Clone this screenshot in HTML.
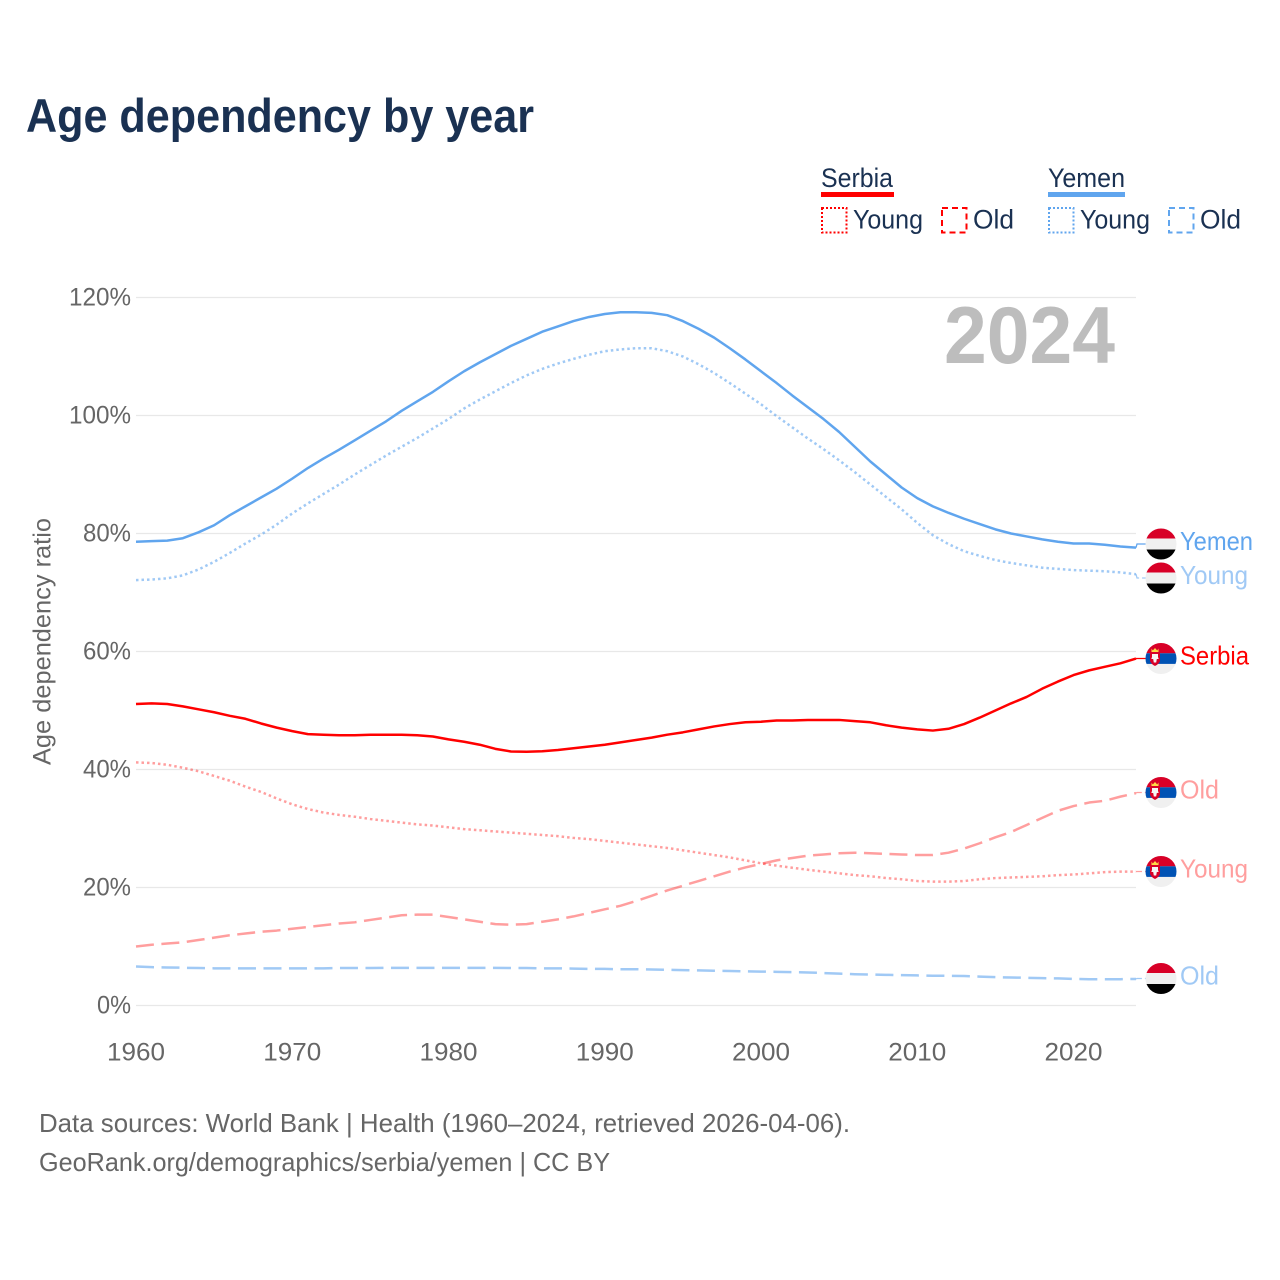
<!DOCTYPE html>
<html lang="en">
<head>
<meta charset="utf-8">
<title>Age dependency by year</title>
<style>
html,body{margin:0;padding:0;background:#fff}
svg{display:block}
text{font-family:"Liberation Sans",sans-serif}
</style>
</head>
<body>
<svg id="chart" xmlns="http://www.w3.org/2000/svg" width="1280" height="1280" viewBox="0 0 1280 1280">
  <defs>
    <clipPath id="flag-clip"><circle cx="0" cy="0" r="15.5"/></clipPath>
    <symbol id="flag-yemen" overflow="visible">
      <g clip-path="url(#flag-clip)">
        <rect x="-16" y="-16" width="32" height="32" fill="#f0f0f0"/>
        <rect x="-16" y="-16" width="32" height="10.500" fill="#d80027"/>
        <rect x="-16" y="5.500" width="32" height="11" fill="#000"/>
      </g>
    </symbol>
    <symbol id="flag-serbia" overflow="visible">
      <g clip-path="url(#flag-clip)">
        <rect x="-16" y="-16" width="32" height="32" fill="#f0f0f0"/>
        <rect x="-16" y="-16" width="32" height="10.800" fill="#d80027"/>
        <rect x="-16" y="-5.200" width="32" height="10.600" fill="#0052b4"/>
        <path d="M-9.500-10L-8.200-8L-6-10.500L-3.800-8L-2.500-10L-2.500-6.500L-9.500-6.500Z" fill="#ffda44"/>
        <path d="M-11-6.500H-1V2.500Q-2.500 6-6 7.500Q-9.500 6-11 2.500Z" fill="#d80027"/>
        <path d="M-9-4.500H-3V-1.500L-2.300 0.500H-4.200L-4.800 4H-7.200L-7.800 0.500H-9.700L-9-1.500Z" fill="#f5f5f5"/>
      </g>
    </symbol>
  </defs>

  <rect x="0" y="0" width="1280" height="1280" fill="#fff"/>

  <text x="26" y="132" font-size="47" font-weight="700" fill="#1a3152" textLength="508" lengthAdjust="spacingAndGlyphs">Age dependency by year</text>

  <g fill="#1a3152" font-size="27">
    <text x="821" y="187" textLength="72" lengthAdjust="spacingAndGlyphs">Serbia</text>
    <rect x="821" y="192" width="73" height="5" fill="#ff0000"/>
    <rect x="822" y="208" width="24.500" height="24.500" fill="none" stroke="#ff0000" stroke-width="2" stroke-dasharray="2 2"/>
    <text x="853" y="228.500" textLength="70" lengthAdjust="spacingAndGlyphs">Young</text>
    <rect x="942" y="208" width="24.500" height="24.500" fill="none" stroke="#ff0000" stroke-width="2" stroke-dasharray="6 4"/>
    <text x="973" y="228.500" textLength="41" lengthAdjust="spacingAndGlyphs">Old</text>

    <text x="1048" y="187" textLength="77" lengthAdjust="spacingAndGlyphs">Yemen</text>
    <rect x="1048" y="192" width="77" height="5" fill="#60a5ee"/>
    <rect x="1049" y="208" width="24.500" height="24.500" fill="none" stroke="#60a5ee" stroke-width="2" stroke-dasharray="2 2"/>
    <text x="1080" y="228.500" textLength="70" lengthAdjust="spacingAndGlyphs">Young</text>
    <rect x="1169" y="208" width="24.500" height="24.500" fill="none" stroke="#60a5ee" stroke-width="2" stroke-dasharray="6 4"/>
    <text x="1200" y="228.500" textLength="41" lengthAdjust="spacingAndGlyphs">Old</text>
  </g>

  <g id="grid"></g>
  <g id="y-ticks"></g>
  <g id="x-ticks"></g>

  <text transform="translate(50.500,765) rotate(-90)" x="0" y="0" font-size="25" fill="#666666" textLength="247" lengthAdjust="spacingAndGlyphs">Age dependency ratio</text>

  <text x="944" y="363" font-size="81" font-weight="700" fill="#bdbdbd" textLength="171" lengthAdjust="spacingAndGlyphs">2024</text>

  <g id="series"></g>
  <g id="end-labels"></g>

  <text x="39" y="1132" font-size="26" fill="#666666" textLength="811" lengthAdjust="spacingAndGlyphs">Data sources: World Bank | Health (1960–2024, retrieved 2026-04-06).</text>
  <text x="39" y="1171" font-size="26" fill="#666666" textLength="571" lengthAdjust="spacingAndGlyphs">GeoRank.org/demographics/serbia/yemen | CC BY</text>
</svg>

<script>
const startYear = 1960;
const yTickValues = [0, 20, 40, 60, 80, 100, 120];
const yTickLabels = ['0%', '20%', '40%', '60%', '80%', '100%', '120%'];
const xTickYears = [1960, 1970, 1980, 1990, 2000, 2010, 2020];
const xTickLabels = ['1960', '1970', '1980', '1990', '2000', '2010', '2020'];

const serbiaTotal = [51.1,51.2,51.1,50.7,50.2,49.7,49.1,48.6,47.8,47.1,46.5,46.0,45.9,45.8,45.8,45.9,45.9,45.9,45.8,45.6,45.1,44.7,44.2,43.5,43.05,43.0,43.1,43.3,43.6,43.9,44.2,44.6,45.0,45.4,45.9,46.3,46.8,47.3,47.7,48.0,48.1,48.3,48.3,48.4,48.4,48.4,48.2,48.0,47.5,47.1,46.8,46.6,46.9,47.7,48.8,50.0,51.2,52.3,53.7,54.9,56.0,56.8,57.4,58.0,58.8];
const serbiaYoung = [41.2,41.1,40.8,40.3,39.7,38.9,38.1,37.1,36.2,35.1,34.1,33.3,32.7,32.3,32.0,31.6,31.3,31.0,30.7,30.5,30.2,29.9,29.7,29.5,29.3,29.1,28.9,28.7,28.4,28.2,27.9,27.6,27.3,27.0,26.7,26.3,25.9,25.5,25.1,24.6,24.1,23.7,23.35,23.0,22.7,22.4,22.1,21.9,21.6,21.4,21.1,21.0,21.0,21.1,21.4,21.6,21.7,21.8,21.9,22.1,22.2,22.4,22.6,22.7,22.7];
const serbiaOld = [10.0,10.3,10.5,10.7,11.1,11.5,11.9,12.2,12.5,12.7,13.0,13.3,13.6,13.9,14.1,14.5,14.9,15.3,15.4,15.4,15.0,14.6,14.2,13.8,13.7,13.8,14.2,14.6,15.1,15.7,16.3,16.9,17.7,18.6,19.5,20.3,21.1,21.9,22.7,23.4,24.0,24.6,25.0,25.4,25.6,25.8,25.9,25.8,25.7,25.6,25.5,25.5,25.9,26.6,27.5,28.5,29.4,30.6,31.8,33.0,33.8,34.4,34.7,35.4,36.0];
const yemenTotal = [78.6,78.7,78.8,79.2,80.2,81.4,83.1,84.6,86.1,87.6,89.3,91.1,92.7,94.2,95.8,97.4,99.0,100.8,102.4,104.0,105.8,107.5,109.0,110.4,111.8,113.0,114.2,115.1,116.0,116.7,117.2,117.5,117.5,117.4,117.0,116.0,114.7,113.2,111.4,109.5,107.5,105.5,103.4,101.4,99.4,97.2,94.7,92.2,90.0,87.8,86.0,84.6,83.5,82.5,81.6,80.7,80.0,79.5,79.0,78.6,78.3,78.3,78.1,77.8,77.6];
const yemenYoung = [72.1,72.2,72.4,72.9,73.9,75.2,76.7,78.3,79.8,81.5,83.4,85.1,86.7,88.3,90.0,91.6,93.2,94.7,96.2,97.8,99.4,101.2,102.7,104.1,105.5,106.8,107.9,108.8,109.6,110.3,110.9,111.2,111.4,111.4,110.9,110.0,108.7,107.2,105.5,103.7,101.9,99.9,98.0,96.1,94.3,92.4,90.4,88.3,86.2,84.1,81.8,79.7,78.2,77.0,76.2,75.5,75.0,74.6,74.2,74.0,73.8,73.7,73.6,73.4,73.1];
const yemenOld = [6.6,6.5,6.45,6.4,6.35,6.3,6.3,6.3,6.3,6.3,6.3,6.3,6.3,6.35,6.35,6.35,6.38,6.38,6.38,6.38,6.38,6.38,6.38,6.38,6.35,6.35,6.3,6.3,6.25,6.2,6.2,6.15,6.15,6.1,6.05,6.0,5.95,5.9,5.85,5.8,5.75,5.7,5.65,5.6,5.5,5.4,5.3,5.25,5.2,5.15,5.1,5.05,5.03,5.0,4.9,4.8,4.75,4.7,4.63,4.6,4.5,4.46,4.46,4.46,4.5];

const SVGNS = 'http://www.w3.org/2000/svg';
const xScale = function (year) { return 136 + (year - startYear) * 15.625; };
const yScale = function (value) { return 1005.5 - value * 5.9; };

function make(tag, attrs, parent, content) {
  const el = document.createElementNS(SVGNS, tag);
  Object.keys(attrs).forEach(function (k) { el.setAttribute(k, attrs[k]); });
  if (content !== undefined) el.textContent = content;
  parent.appendChild(el);
  return el;
}

const gridGroup = document.getElementById('grid');
const yTickGroup = document.getElementById('y-ticks');
const xTickGroup = document.getElementById('x-ticks');
const seriesGroup = document.getElementById('series');
const labelGroup = document.getElementById('end-labels');

yTickValues.forEach(function (v, i) {
  const line = make('line', { x1: 136, x2: 1136, y1: yScale(v), y2: yScale(v), stroke: '#e8e8e8', 'stroke-width': 1.3 }, gridGroup);
  
  
  const label = yTickLabels[i];
  const t = make('text', { x: 131, y: yScale(v) + 8, 'text-anchor': 'end', 'font-size': 25, fill: '#666666', textLength: label.length === 4 ? 62 : (label.length === 3 ? 48 : 34), lengthAdjust: 'spacingAndGlyphs' }, yTickGroup, label);
  
  
});

xTickYears.forEach(function (yr, i) {
  const t = make('text', { x: xScale(yr), y: 1060.5, 'text-anchor': 'middle', 'font-size': 25, fill: '#666666', textLength: 58, lengthAdjust: 'spacingAndGlyphs' }, xTickGroup, xTickLabels[i]);
  
  
});

const seriesList = [
  { id: 'yemen-old', values: yemenOld, color: '#60a5ee', opacity: 0.6, dash: '18 7.500', flag: 'flag-yemen', label: 'Old', labelY: 978.5, width: 39 },
  { id: 'serbia-old', values: serbiaOld, color: '#ff0000', opacity: 0.38, dash: '18 7.500', flag: 'flag-serbia', label: 'Old', labelY: 792.5, width: 39 },
  { id: 'serbia-young', values: serbiaYoung, color: '#ff0000', opacity: 0.38, dash: '2.500 3', flag: 'flag-serbia', label: 'Young', labelY: 871.5, width: 68 },
  { id: 'yemen-young', values: yemenYoung, color: '#60a5ee', opacity: 0.6, dash: '2.500 3', flag: 'flag-yemen', label: 'Young', labelY: 578, width: 68 },
  { id: 'serbia-total', values: serbiaTotal, color: '#ff0000', opacity: 1, dash: '', flag: 'flag-serbia', label: 'Serbia', labelY: 658.5, width: 69 },
  { id: 'yemen-total', values: yemenTotal, color: '#60a5ee', opacity: 1, dash: '', flag: 'flag-yemen', label: 'Yemen', labelY: 544, width: 73 }
];

seriesList.forEach(function (s) {
  const d = s.values.map(function (v, i) {
    return (i ? 'L' : 'M') + xScale(startYear + i).toFixed(2) + ' ' + yScale(v).toFixed(2);
  }).join('');
  const attrs = { d: d, fill: 'none', stroke: s.color, 'stroke-opacity': s.opacity, 'stroke-width': 2.5, 'stroke-linejoin': 'round' };
  if (s.dash) attrs['stroke-dasharray'] = s.dash;
  const path = make('path', attrs, seriesGroup);
  
  

  const endYear = startYear + s.values.length - 1;
  const ex = xScale(endYear);
  const ey = yScale(s.values[s.values.length - 1]);
  const conn = make('path', { d: 'M' + ex + ' ' + ey + 'L' + (ex + 1) + ' ' + s.labelY + 'L1146 ' + s.labelY, fill: 'none', stroke: s.color, 'stroke-opacity': s.opacity, 'stroke-width': 1.3, 'stroke-dasharray': s.dash ? '6 3' : 'none' }, seriesGroup);
  
  

  const flag = make('use', { href: '#' + s.flag, x: 1161, y: s.labelY }, labelGroup);
  
  

  const t = make('text', { x: 1180, y: s.labelY + 6, 'font-size': 26, fill: s.color, 'fill-opacity': s.opacity, textLength: s.width, lengthAdjust: 'spacingAndGlyphs' }, labelGroup, s.label);
  
  
});
</script>
</body>
</html>
